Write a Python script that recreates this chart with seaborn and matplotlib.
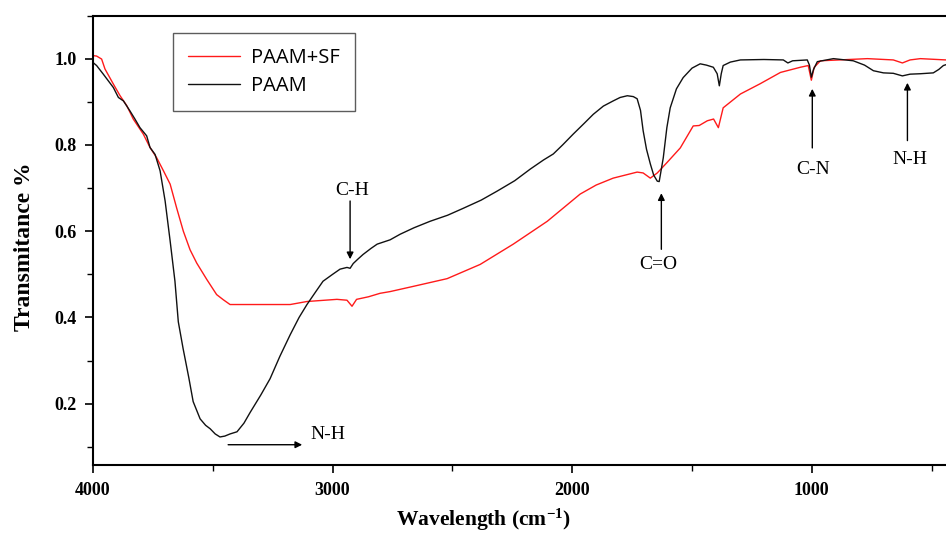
import numpy as np
import pandas as pd
import matplotlib
matplotlib.use("Agg")
import matplotlib.pyplot as plt
from matplotlib.ticker import MultipleLocator, FixedLocator
import seaborn as sns

# ---- data ----
paam_wn = [4000, 3985, 3957, 3915, 3894, 3873, 3846, 3825, 3804, 3776, 3762, 3741,
           3720, 3699, 3678, 3658, 3644, 3624, 3600, 3582, 3553, 3530, 3511, 3490,
           3470, 3450, 3428, 3399, 3370, 3344, 3300, 3261, 3220, 3177, 3140, 3107,
           3070, 3040, 3000, 2969, 2940, 2927, 2914, 2895, 2873, 2840, 2814, 2760,
           2718, 2660, 2593, 2520, 2455, 2380, 2313, 2240, 2175, 2120, 2079, 2040,
           1996, 1950, 1912, 1870, 1829, 1800, 1770, 1745, 1729, 1715, 1704, 1690,
           1674, 1660, 1645, 1637, 1620, 1605, 1591, 1565, 1537, 1500, 1466, 1440,
           1411, 1395, 1386, 1378, 1370, 1340, 1298, 1200, 1119, 1100, 1080, 1019,
           1010, 1002, 993, 977, 910, 827, 780, 743, 701, 660, 622, 590, 547, 493,
           470, 451, 440]
paam_t = [0.991, 0.984, 0.964, 0.933, 0.910, 0.902, 0.879, 0.860, 0.840, 0.821, 0.794, 0.778,
          0.740, 0.670, 0.577, 0.484, 0.390, 0.328, 0.260, 0.205, 0.165, 0.150, 0.142, 0.130,
          0.123, 0.125, 0.130, 0.135, 0.155, 0.180, 0.220, 0.258, 0.310, 0.360, 0.400, 0.430,
          0.460, 0.484, 0.500, 0.512, 0.516, 0.514, 0.525, 0.535, 0.546, 0.560, 0.570, 0.580,
          0.593, 0.608, 0.623, 0.637, 0.653, 0.672, 0.693, 0.717, 0.744, 0.765, 0.779, 0.800,
          0.825, 0.850, 0.871, 0.890, 0.902, 0.910, 0.914, 0.912, 0.907, 0.880, 0.833, 0.790,
          0.756, 0.730, 0.716, 0.715, 0.770, 0.840, 0.886, 0.930, 0.956, 0.978, 0.988, 0.985,
          0.980, 0.965, 0.937, 0.965, 0.984, 0.992, 0.997, 0.998, 0.997, 0.990, 0.995, 0.997,
          0.985, 0.957, 0.975, 0.993, 1.000, 0.995, 0.985, 0.972, 0.967, 0.966, 0.960, 0.964,
          0.965, 0.967, 0.975, 0.984, 0.986]

sf_wn = [4000, 3985, 3964, 3950, 3915, 3887, 3859, 3832, 3790, 3762, 3734, 3706,
         3678, 3651, 3623, 3595, 3567, 3525, 3484, 3456, 3428, 3399, 3315, 3177,
         3107, 2982, 2940, 2919, 2900, 2850, 2802, 2760, 2664, 2522, 2384, 2246,
         2104, 1967, 1900, 1829, 1729, 1704, 1674, 1645, 1603, 1549, 1495, 1470,
         1436, 1410, 1390, 1370, 1298, 1215, 1131, 1048, 1015, 1002, 990, 964,
         768, 660, 622, 590, 547, 440]
sf_t = [1.007, 1.006, 0.999, 0.976, 0.941, 0.914, 0.891, 0.860, 0.825, 0.794, 0.770, 0.740,
        0.709, 0.654, 0.600, 0.557, 0.526, 0.488, 0.453, 0.441, 0.430, 0.430, 0.430, 0.430,
        0.437, 0.442, 0.440, 0.426, 0.442, 0.448, 0.456, 0.460, 0.472, 0.490, 0.523, 0.570,
        0.623, 0.686, 0.707, 0.723, 0.737, 0.735, 0.723, 0.735, 0.760, 0.793, 0.844, 0.845,
        0.856, 0.860, 0.840, 0.886, 0.918, 0.942, 0.968, 0.980, 0.984, 0.950, 0.980, 0.995,
        1.000, 0.997, 0.990, 0.997, 1.000, 0.997]

series_names = ["PAAM+SF", "PAAM"]
series_colors = ["#ff1a1a", "#111111"]

x_ticks = [4000, 3000, 2000, 1000]
y_ticks = [0.2, 0.4, 0.6, 0.8, 1.0]

annotations = [  # label, text(x,y), arrow tail(x,y), arrow head(x,y)
    ("C-H", (2919, 0.695), (2927, 0.670), (2927, 0.535)),
    ("N-H", (3019, 0.128), (3436, 0.105), (3127, 0.105)),
    ("C=O", (1641, 0.523), (1628, 0.558), (1628, 0.688)),
    ("C-N", (994, 0.744), (998, 0.793), (998, 0.930)),
    ("N-H", (589, 0.767), (601, 0.810), (601, 0.944)),
]

df = pd.concat([
    pd.DataFrame({"wn": sf_wn, "T": sf_t, "sample": series_names[0]}),
    pd.DataFrame({"wn": paam_wn, "T": paam_t, "sample": series_names[1]}),
], ignore_index=True)

sns.set_theme(style="ticks", rc={"text.color": "black", "axes.labelcolor": "black",
                                 "xtick.color": "black", "ytick.color": "black"})
plt.rcParams["font.family"] = ["Liberation Serif", "DejaVu Serif"]
plt.rcParams["mathtext.default"] = "regular"

fig = plt.figure(figsize=(9.46, 5.36), dpi=100)
ax = fig.add_axes([93 / 946, 1 - 465 / 536, 1.0 - 93 / 946, (465 - 15.5) / 536])

sns.lineplot(data=df, x="wn", y="T", hue="sample", palette=dict(zip(series_names, series_colors)),
             sort=False, estimator=None, linewidth=1.0, ax=ax, legend=False)

ax.set_xlim(4000, 440)
ax.set_ylim(0.058, 1.1)

ax.xaxis.set_major_locator(FixedLocator(x_ticks))
ax.xaxis.set_minor_locator(MultipleLocator(500))
ax.yaxis.set_major_locator(FixedLocator(y_ticks))
ax.yaxis.set_minor_locator(MultipleLocator(0.1))
ax.set_yticklabels([f"{v:.1f}" for v in y_ticks])
ax.set_xticklabels([str(v) for v in x_ticks])

for lab in ax.get_xticklabels() + ax.get_yticklabels():
    lab.set_fontweight("bold")
    lab.set_fontsize(13)
ax.tick_params(which="major", direction="out", length=6, width=1.2, colors="black", pad=6)
ax.tick_params(which="minor", direction="out", length=4, width=1.0, colors="black")

for side in ["left", "bottom", "top"]:
    ax.spines[side].set_linewidth(1.5)
    ax.spines[side].set_color("black")
ax.spines["right"].set_visible(False)

ax.set_xlabel("Wavelength (cm$^{-1}$)", fontsize=15.5, fontweight="bold", labelpad=6)
ax.xaxis.label.set_x(0.458)
ax.set_ylabel("Transmitance %", fontsize=17, fontweight="bold", labelpad=14)
ax.yaxis.label.set_y(0.485)

for label, txt, tail, head in annotations:
    ax.text(txt[0], txt[1], label, fontsize=14, ha="center", va="center", color="black")
    ax.annotate("", xy=head, xytext=tail,
                arrowprops=dict(arrowstyle="-|>", color="black", lw=1.0, mutation_scale=10,
                                shrinkA=0, shrinkB=0))

handles = [plt.Line2D([], [], color=c, lw=1.0) for c in series_colors]
leg = ax.legend(handles, series_names, loc="upper left",
                bbox_to_anchor=(173 / 946, 1 - 33 / 536), bbox_transform=fig.transFigure,
                borderaxespad=0, frameon=True, fancybox=False, handlelength=2.6,
                handletextpad=0.5, labelspacing=0.4, borderpad=0.75,
                prop={"family": "Open Sans", "size": 14.5})
leg.get_frame().set_edgecolor("#333333")
leg.get_frame().set_linewidth(1.0)
for t in leg.get_texts():
    t.set_color("black")

fig.savefig("out.png", dpi=100)
